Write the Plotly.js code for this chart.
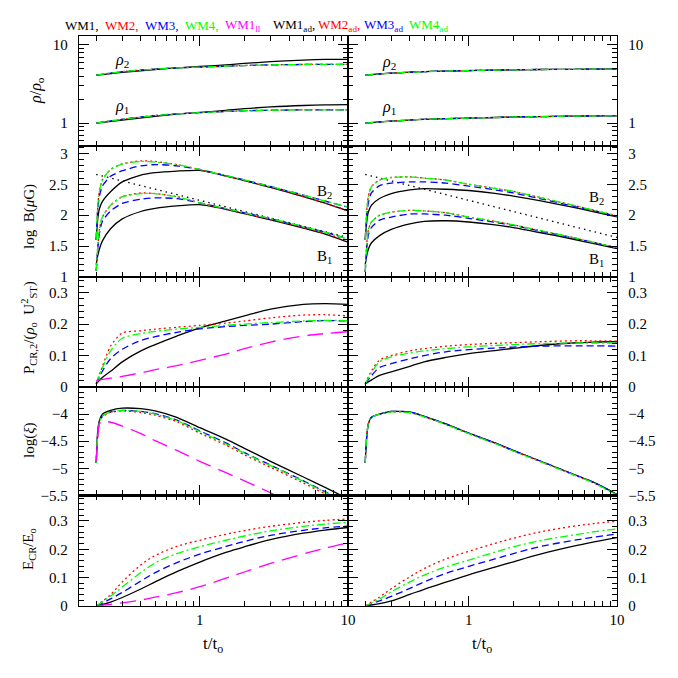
<!DOCTYPE html>
<html><head><meta charset="utf-8">
<script src="https://cdn.plot.ly/plotly-3.0.1.min.js"></script>
<style>html,body{margin:0;padding:0;background:#fff}#chart{width:678px;height:678px}</style>
</head><body><div id="chart"></div>
<script>
// ---------- time grids (t/t_o) ----------
const T_R = [0.2, 0.3, 0.5, 0.7, 1, 1.5, 2, 3, 5, 7, 10];
const T_B = [0.2, 0.205, 0.21, 0.22, 0.25, 0.3, 0.4, 0.5, 0.7, 1, 1.5, 2, 3, 5, 7, 10];
const T_P = [0.2, 0.22, 0.25, 0.3, 0.4, 0.5, 0.7, 1, 1.5, 2, 3, 5, 7, 10];
const T_XI_LL = [0.2, 0.205, 0.21, 0.22, 0.25, 0.3, 0.4, 0.5, 0.7, 1, 1.5, 2, 3, 4];
const T_E = [0.2, 0.25, 0.3, 0.4, 0.5, 0.7, 1, 1.5, 2, 3, 5, 7, 10];
const T_REF = [0.2, 10];

// ---------- panel 1: rho/rho_o ----------
const rho2_WM1   = [4.1, 4.45, 4.85, 5.08, 5.3, 5.55, 5.8, 6.1, 6.4, 6.52, 6.55];
const rho2_WM234 = [4.1, 4.55, 4.9, 5.08, 5.2, 5.35, 5.45, 5.55, 5.62, 5.65, 5.65];
const rho1_WM1   = [1.0, 1.09, 1.22, 1.3, 1.37, 1.46, 1.53, 1.61, 1.68, 1.71, 1.72];
const rho1_WM234 = [1.0, 1.12, 1.25, 1.31, 1.36, 1.41, 1.44, 1.46, 1.48, 1.48, 1.48];
const rho2_ad = [4.1, 4.35, 4.55, 4.63, 4.7, 4.76, 4.8, 4.85, 4.88, 4.9, 4.92];
const rho1_ad = [1.0, 1.06, 1.12, 1.14, 1.16, 1.18, 1.2, 1.21, 1.23, 1.235, 1.24];

// ---------- panel 2: log B (muG) ----------
const B2_WM1 = [1.6, 1.95, 2.1, 2.22, 2.38, 2.54, 2.65, 2.69, 2.715, 2.725, 2.635, 2.56, 2.45, 2.3, 2.195, 2.07];
const B2_WM2 = [1.6, 2.15, 2.38, 2.57, 2.74, 2.83, 2.88, 2.87, 2.82, 2.74, 2.635, 2.56, 2.45, 2.3, 2.195, 2.07];
const B2_WM3 = [1.6, 2.1, 2.3, 2.47, 2.63, 2.72, 2.8, 2.82, 2.8, 2.74, 2.64, 2.57, 2.465, 2.325, 2.23, 2.13];
const B2_WM4 = [1.6, 2.15, 2.38, 2.57, 2.74, 2.83, 2.87, 2.86, 2.82, 2.74, 2.64, 2.57, 2.465, 2.325, 2.23, 2.13];
const B1_WM1 = [1.2, 1.35, 1.45, 1.58, 1.78, 1.94, 2.06, 2.11, 2.15, 2.17, 2.095, 2.025, 1.925, 1.79, 1.695, 1.565];
const B1_WM2 = [1.1, 1.49, 1.76, 1.97, 2.16, 2.3, 2.36, 2.35, 2.3, 2.2, 2.1, 2.03, 1.93, 1.8, 1.705, 1.585];
const B1_WM3 = [1.1, 1.45, 1.7, 1.9, 2.07, 2.19, 2.26, 2.28, 2.27, 2.2, 2.105, 2.04, 1.945, 1.815, 1.725, 1.615];
const B1_WM4 = [1.1, 1.49, 1.76, 1.97, 2.16, 2.3, 2.35, 2.35, 2.3, 2.2, 2.105, 2.04, 1.945, 1.815, 1.725, 1.615];
const B2_WM1ad = [1.6, 1.9, 2.05, 2.16, 2.27, 2.35, 2.41, 2.43, 2.42, 2.4, 2.355, 2.31, 2.235, 2.13, 2.055, 1.975];
const B2_WM2ad = [1.6, 2.08, 2.3, 2.46, 2.57, 2.61, 2.62, 2.6, 2.57, 2.5, 2.435, 2.385, 2.29, 2.165, 2.08, 1.99];
const B2_WM3ad = [1.6, 2.0, 2.2, 2.36, 2.48, 2.52, 2.54, 2.54, 2.52, 2.47, 2.41, 2.36, 2.27, 2.15, 2.07, 1.985];
const B2_WM4ad = [1.6, 2.08, 2.3, 2.46, 2.57, 2.61, 2.62, 2.6, 2.57, 2.5, 2.435, 2.385, 2.29, 2.165, 2.08, 1.99];
const B1_WM1ad = [1.2, 1.35, 1.45, 1.55, 1.67, 1.77, 1.86, 1.9, 1.91, 1.89, 1.845, 1.8, 1.72, 1.615, 1.54, 1.46];
const B1_WM2ad = [1.08, 1.54, 1.76, 1.89, 2.0, 2.05, 2.08, 2.07, 2.04, 1.97, 1.9, 1.845, 1.755, 1.64, 1.56, 1.475];
const B1_WM3ad = [1.08, 1.48, 1.68, 1.8, 1.92, 1.97, 2.02, 2.02, 2.0, 1.95, 1.885, 1.835, 1.745, 1.635, 1.555, 1.47];
const B1_WM4ad = [1.08, 1.54, 1.76, 1.89, 2.0, 2.05, 2.08, 2.07, 2.04, 1.97, 1.9, 1.845, 1.755, 1.64, 1.56, 1.475];
const B_REF = [2.66, 1.64];

// ---------- panel 3: P_CR,2 / (rho_o U_ST^2) ----------
const P_WM1 = [0.01, 0.03, 0.05, 0.08, 0.115, 0.135, 0.162, 0.188, 0.21, 0.226, 0.248, 0.263, 0.265, 0.263];
const P_WM2 = [0.01, 0.065, 0.13, 0.172, 0.179, 0.184, 0.19, 0.196, 0.203, 0.21, 0.22, 0.229, 0.23, 0.226];
const P_WM3 = [0.01, 0.05, 0.09, 0.12, 0.148, 0.16, 0.174, 0.185, 0.192, 0.196, 0.2, 0.208, 0.211, 0.21];
const P_WM4 = [0.01, 0.06, 0.115, 0.155, 0.17, 0.177, 0.184, 0.19, 0.196, 0.2, 0.205, 0.21, 0.212, 0.211];
const P_WM1ll = [0.02, 0.024, 0.028, 0.034, 0.045, 0.055, 0.068, 0.085, 0.105, 0.122, 0.143, 0.162, 0.17, 0.176];
const P_WM1ad = [0.01, 0.022, 0.037, 0.048, 0.066, 0.08, 0.094, 0.106, 0.116, 0.123, 0.132, 0.14, 0.143, 0.144];
const P_WM2ad = [0.01, 0.05, 0.085, 0.1, 0.115, 0.122, 0.13, 0.135, 0.139, 0.141, 0.144, 0.147, 0.147, 0.146];
const P_WM3ad = [0.01, 0.035, 0.062, 0.074, 0.09, 0.1, 0.112, 0.119, 0.124, 0.127, 0.13, 0.131, 0.131, 0.13];
const P_WM4ad = [0.01, 0.045, 0.08, 0.096, 0.108, 0.115, 0.122, 0.128, 0.132, 0.135, 0.138, 0.14, 0.14, 0.14];

// ---------- panel 4: log(xi) ----------
const XI_WM1 = [-4.9, -4.3, -4.12, -4.0, -3.93, -3.89, -3.9, -3.94, -4.06, -4.25, -4.46, -4.63, -4.87, -5.16, -5.35, -5.56];
const XI_WM2 = [-4.9, -4.36, -4.16, -4.05, -3.97, -3.94, -3.97, -4.02, -4.14, -4.35, -4.57, -4.75, -4.98, -5.27, -5.47, -5.67];
const XI_WM3 = [-4.9, -4.35, -4.15, -4.03, -3.96, -3.93, -3.95, -3.99, -4.11, -4.31, -4.53, -4.71, -4.94, -5.23, -5.43, -5.63];
const XI_WM4 = [-4.9, -4.35, -4.15, -4.03, -3.96, -3.93, -3.95, -4.0, -4.12, -4.32, -4.55, -4.72, -4.95, -5.24, -5.44, -5.64];
const XI_WM1ll = [-4.88, -4.4, -4.18, -4.13, -4.15, -4.22, -4.36, -4.49, -4.67, -4.87, -5.08, -5.23, -5.45, -5.61];
const XI_WM1ad = [-4.9, -4.4, -4.18, -4.06, -4.0, -3.95, -3.96, -4.04, -4.18, -4.35, -4.53, -4.67, -4.86, -5.1, -5.26, -5.48];
const XI_WM2ad = [-4.9, -4.4, -4.18, -4.06, -4.0, -3.96, -3.97, -4.05, -4.19, -4.36, -4.54, -4.68, -4.87, -5.11, -5.27, -5.49];
const XI_WM3ad = [-4.9, -4.4, -4.18, -4.06, -4.0, -3.95, -3.96, -4.04, -4.18, -4.35, -4.53, -4.67, -4.86, -5.1, -5.26, -5.48];
const XI_WM4ad = [-4.9, -4.4, -4.18, -4.06, -4.0, -3.96, -3.97, -4.05, -4.19, -4.36, -4.54, -4.68, -4.87, -5.11, -5.27, -5.49];

// ---------- panel 5: E_CR / E_o ----------
const E_WM1 = [0, 0.014, 0.03, 0.06, 0.085, 0.121, 0.155, 0.189, 0.209, 0.234, 0.257, 0.268, 0.277];
const E_WM2 = [0, 0.04, 0.085, 0.145, 0.178, 0.21, 0.232, 0.253, 0.266, 0.281, 0.295, 0.302, 0.307];
const E_WM3 = [0, 0.025, 0.048, 0.088, 0.118, 0.153, 0.183, 0.21, 0.228, 0.249, 0.267, 0.276, 0.282];
const E_WM4 = [0, 0.035, 0.067, 0.118, 0.152, 0.185, 0.209, 0.232, 0.247, 0.265, 0.281, 0.289, 0.295];
const E_WM1ll = [0, 0.006, 0.011, 0.021, 0.031, 0.047, 0.068, 0.098, 0.12, 0.15, 0.184, 0.204, 0.223];
const E_WM1ad = [0, 0.008, 0.018, 0.041, 0.059, 0.084, 0.11, 0.137, 0.156, 0.182, 0.21, 0.226, 0.241];
const E_WM2ad = [0, 0.032, 0.061, 0.103, 0.132, 0.166, 0.193, 0.221, 0.239, 0.261, 0.281, 0.291, 0.299];
const E_WM3ad = [0, 0.018, 0.034, 0.062, 0.085, 0.115, 0.14, 0.166, 0.185, 0.209, 0.231, 0.243, 0.254];
const E_WM4ad = [0, 0.025, 0.05, 0.085, 0.109, 0.138, 0.162, 0.19, 0.209, 0.23, 0.25, 0.262, 0.272];

// ---------- tick labels ----------
const X_TICKS = [1, 10];
const X_TICKTEXT = ['1', '10'];

// ---------- styles ----------
const BLACK = '#000000', RED = '#ff0000', BLUE = '#0000ff', GREEN = '#00ff00', MAG = '#ff00ff';
const S1 = {color: BLACK, dash: 'solid'};
const S2 = {color: RED, dash: '2px,3px'};
const S3 = {color: BLUE, dash: '7px,4px'};
const S4 = {color: GREEN, dash: '8px,3px,2px,3px'};
const SL = {color: MAG, dash: '16px,8px'};
const SR = {color: BLACK, dash: '1.5px,4px'};

function sfx(i) { return i === 1 ? '' : String(i); }
const traces = [];
function add(i, t, y, s, sm) {
  traces.push({type: 'scatter', mode: 'lines', x: t, y: y,
    xaxis: 'x' + sfx(i), yaxis: 'y' + sfx(i), hoverinfo: 'skip',
    line: {color: s.color, dash: s.dash, width: 1.3,
           shape: sm === 0 ? 'linear' : 'spline', smoothing: sm || 0.6}});
}

// panel 1
add(1, T_R, rho2_WM1, S1, 1); add(1, T_R, rho2_WM234, S2, 1); add(1, T_R, rho2_WM234, S3, 1); add(1, T_R, rho2_WM234, S4, 1);
add(1, T_R, rho1_WM1, S1, 1); add(1, T_R, rho1_WM234, S2, 1); add(1, T_R, rho1_WM234, S3, 1); add(1, T_R, rho1_WM234, S4, 1);
add(2, T_R, rho2_ad, S1, 1); add(2, T_R, rho2_ad, S2, 1); add(2, T_R, rho2_ad, S3, 1); add(2, T_R, rho2_ad, S4, 1);
add(2, T_R, rho1_ad, S1, 1); add(2, T_R, rho1_ad, S2, 1); add(2, T_R, rho1_ad, S3, 1); add(2, T_R, rho1_ad, S4, 1);
// panel 2
add(3, T_REF, B_REF, SR, 0);
add(3, T_B, B2_WM1, S1); add(3, T_B, B2_WM2, S2); add(3, T_B, B2_WM3, S3); add(3, T_B, B2_WM4, S4);
add(3, T_B, B1_WM1, S1); add(3, T_B, B1_WM2, S2); add(3, T_B, B1_WM3, S3); add(3, T_B, B1_WM4, S4);
add(4, T_REF, B_REF, SR, 0);
add(4, T_B, B2_WM1ad, S1); add(4, T_B, B2_WM2ad, S2); add(4, T_B, B2_WM3ad, S3); add(4, T_B, B2_WM4ad, S4);
add(4, T_B, B1_WM1ad, S1); add(4, T_B, B1_WM2ad, S2); add(4, T_B, B1_WM3ad, S3); add(4, T_B, B1_WM4ad, S4);
// panel 3
add(5, T_P, P_WM1, S1, 0.9); add(5, T_P, P_WM2, S2, 0.7); add(5, T_P, P_WM3, S3, 0.9); add(5, T_P, P_WM4, S4, 0.8); add(5, T_P, P_WM1ll, SL, 1);
add(6, T_P, P_WM1ad, S1, 1); add(6, T_P, P_WM2ad, S2, 1); add(6, T_P, P_WM3ad, S3, 1); add(6, T_P, P_WM4ad, S4, 1);
// panel 4
add(7, T_B, XI_WM1, S1); add(7, T_B, XI_WM2, S2); add(7, T_B, XI_WM3, S3); add(7, T_B, XI_WM4, S4); add(7, T_XI_LL, XI_WM1ll, SL);
add(8, T_B, XI_WM1ad, S1); add(8, T_B, XI_WM2ad, S2); add(8, T_B, XI_WM3ad, S3); add(8, T_B, XI_WM4ad, S4);
// panel 5
add(9, T_E, E_WM1, S1, 1); add(9, T_E, E_WM2, S2, 1); add(9, T_E, E_WM3, S3, 1); add(9, T_E, E_WM4, S4, 1); add(9, T_E, E_WM1ll, SL, 1);
add(10, T_E, E_WM1ad, S1, 1); add(10, T_E, E_WM2ad, S2, 1); add(10, T_E, E_WM3ad, S3, 1); add(10, T_E, E_WM4ad, S4, 1);

// ---------- layout ----------
const FONT = 'Liberation Serif, Times New Roman, serif';
const ML = 79, MR = 61, MT = 36, MB = 72, W = 678, H = 678;
const PW = W - ML - MR, PH = H - MT - MB;
const rowDom = [[0.8070, 1], [0.5772, 0.8070], [0.3842, 0.5772], [0.1939, 0.3842], [0, 0.1939]];
const colDom = [[0, 0.5], [0.5, 1]];
const yCfg = [
  {type: 'log', range: [Math.log10(0.51), Math.log10(13)], tickvals: [1, 10], ticktext: ['1', '10'],
   minor: {tickmode: 'array', tickvals: [0.6, 0.7, 0.8, 0.9, 2, 3, 4, 5, 6, 7, 8, 9]}},
  {type: 'linear', range: [1, 3.12], tickvals: [1, 1.5, 2, 2.5, 3], ticktext: ['1', '1.5', '2', '2.5', '3'],
   minor: {tickmode: 'linear', tick0: 0, dtick: 0.1}},
  {type: 'linear', range: [0, 0.35], tickvals: [0, 0.1, 0.2, 0.3], ticktext: ['0', '0.1', '0.2', '0.3'],
   minor: {tickmode: 'linear', tick0: 0, dtick: 0.02}},
  {type: 'linear', range: [-5.5, -3.5], tickvals: [-5.5, -5, -4.5, -4], ticktext: ['\u22125.5', '\u22125', '\u22124.5', '\u22124'],
   minor: {tickmode: 'linear', tick0: 0, dtick: 0.1}},
  {type: 'linear', range: [0, 0.39], tickvals: [0, 0.1, 0.2, 0.3], ticktext: ['0', '0.1', '0.2', '0.3'],
   minor: {tickmode: 'linear', tick0: 0, dtick: 0.02}}
];
const xMinor = [0.2, 0.3, 0.4, 0.5, 0.6, 0.7, 0.8, 0.9, 2, 3, 4, 5, 6, 7, 8, 9];

const layout = {
  width: W, height: H, margin: {l: ML, r: MR, t: MT, b: MB, pad: 0},
  paper_bgcolor: '#fff', plot_bgcolor: '#fff', showlegend: false,
  font: {family: FONT, size: 15, color: '#000'},
  annotations: []
};
const common = {ticks: 'inside', ticklen: 10, tickwidth: 1, tickcolor: '#000', mirror: 'allticks',
  showline: true, linecolor: '#000', linewidth: 1.2, showgrid: false, zeroline: false, fixedrange: true,
  tickfont: {family: FONT, size: 15, color: '#000'}};
for (let r = 0; r < 5; r++) {
  for (let c = 0; c < 2; c++) {
    const i = r * 2 + c + 1;
    const xa = Object.assign({}, common, {
      domain: colDom[c], anchor: 'y' + sfx(i), type: 'log', range: [-0.815, 1],
      tickmode: 'array', tickvals: X_TICKS, ticktext: X_TICKTEXT, showticklabels: r === 4,
      minor: {tickmode: 'array', tickvals: xMinor, ticks: 'inside', ticklen: 5, tickwidth: 1, tickcolor: '#000'}
    });
    layout['xaxis' + sfx(i)] = xa;
    const yc = yCfg[r];
    layout['yaxis' + sfx(i)] = Object.assign({}, common, {
      domain: rowDom[r], anchor: 'x' + sfx(i), type: yc.type, range: yc.range,
      tickmode: 'array', tickvals: yc.tickvals, ticktext: yc.ticktext,
      side: c === 0 ? 'left' : 'right', ticklabelstandoff: 7,
      minor: Object.assign({ticks: 'inside', ticklen: 5, tickwidth: 1, tickcolor: '#000'}, yc.minor)
    });
  }
}

function px(x) { return (x - ML) / PW; }
function py(y) { return (MT + PH - y) / PH; }
function ann(text, x, y, opts) {
  layout.annotations.push(Object.assign({text: text, xref: 'paper', yref: 'paper', x: px(x), y: py(y),
    showarrow: false, xanchor: 'center', yanchor: 'middle',
    font: {family: FONT, size: 15, color: '#000'}}, opts || {}));
}

// legend along the top
const legendItems = [
  ['WM1,', BLACK, 63], ['WM2,', RED, 103], ['WM3,', BLUE, 143], ['WM4,', GREEN, 183], ['WM1<sub>ll</sub>', MAG, 223],
  ['WM1<sub>ad</sub>,', BLACK, 271], ['WM2<sub>ad</sub>,', RED, 316], ['WM3<sub>ad</sub>', BLUE, 362], ['WM4<sub>ad</sub>', GREEN, 407]
];
legendItems.forEach(function (it) {
  ann(it[0], it[2], 26, {xanchor: 'left', font: {family: FONT, size: 13, color: it[1]}});
});

// y-axis titles (rotated)
ann('<i>ρ</i>/<i>ρ</i><sub>o</sub>', 37, 91, {textangle: -90, font: {family: FONT, size: 16, color: '#000'}});
ann('log  B(<i>μ</i>G)', 29, 217, {textangle: -90});
ann('P<sub>CR,2</sub>/(<i>ρ</i><sub>o</sub>  U<sup>2</sup><sub>ST</sub>)', 29, 328, {textangle: -90});
ann('log(<i>ξ</i>)', 29, 440, {textangle: -90});
ann('E<sub>CR</sub>/E<sub>o</sub>', 29, 549, {textangle: -90});

// x-axis titles
ann('t/t<sub>o</sub>', 213, 645, {font: {family: FONT, size: 17, color: '#000'}});
ann('t/t<sub>o</sub>', 482, 645, {font: {family: FONT, size: 17, color: '#000'}});

// in-panel labels
const lf = {family: FONT, size: 16, color: '#000'};
ann('<i>ρ</i><sub>2</sub>', 122, 60, {font: lf});
ann('<i>ρ</i><sub>1</sub>', 122, 106, {font: lf});
ann('<i>ρ</i><sub>2</sub>', 389, 62, {font: lf});
ann('<i>ρ</i><sub>1</sub>', 389, 107, {font: lf});
ann('B<sub>2</sub>', 324, 192);
ann('B<sub>1</sub>', 324, 257);
ann('B<sub>2</sub>', 596, 198);
ann('B<sub>1</sub>', 596, 260);

Plotly.newPlot('chart', traces, layout, {staticPlot: true, displayModeBar: false});
</script>
</body></html>
